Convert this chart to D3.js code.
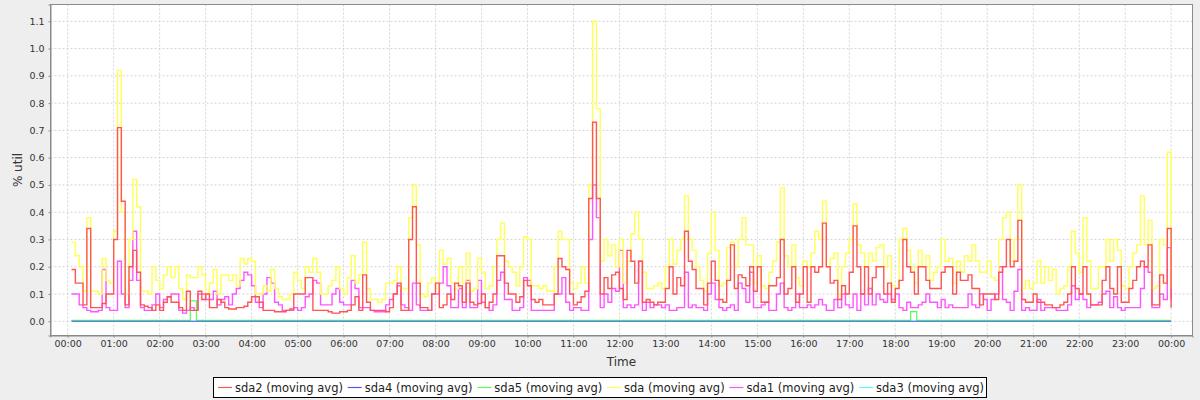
<!DOCTYPE html>
<html><head><meta charset="utf-8">
<script src="https://cdn.jsdelivr.net/npm/d3@7"></script>
<style>
html,body{margin:0;padding:0;background:#eeeeee;}
svg{display:block;font-family:"DejaVu Sans",sans-serif;}
</style></head><body>
<svg id="chart" width="1200" height="400"></svg>
<script>
// ---------- data ----------
const seriesNames = ["sda2 (moving avg)", "sda4 (moving avg)", "sda5 (moving avg)", "sda (moving avg)", "sda1 (moving avg)", "sda3 (moving avg)"];
const xTickLabels = ["00:00","01:00","02:00","03:00","04:00","05:00","06:00","07:00","08:00","09:00","10:00","11:00","12:00","13:00","14:00","15:00","16:00","17:00","18:00","19:00","20:00","21:00","22:00","23:00","00:00"];
const yTickValues = [0.0,0.1,0.2,0.3,0.4,0.5,0.6,0.7,0.8,0.9,1.0,1.1];
const yTickLabels = ["0.0","0.1","0.2","0.3","0.4","0.5","0.6","0.7","0.8","0.9","1.0","1.1"];

// samples every 5 minutes, 00:05 .. 24:00
const startMinute = 5, stepMinutes = 5;

const sda2 = [
0.19,0.14,0.14,0.06,0.34,0.05,0.05,0.05,0.065,0.10,0.10,0.30,
0.71,0.44,0.06,0.20,0.26,0.18,0.06,0.055,0.05,0.04,0.06,0.04,
0.07,0.09,0.07,0.07,0.05,0.04,0.11,0.04,0.04,0.11,0.08,0.10,
0.05,0.05,0.08,0.07,0.05,0.045,0.045,0.05,0.05,0.055,0.07,0.09,
0.09,0.07,0.04,0.04,0.04,0.035,0.035,0.035,0.04,0.045,0.10,0.10,
0.10,0.16,0.16,0.04,0.04,0.04,0.04,0.035,0.03,0.03,0.035,0.035,
0.04,0.06,0.09,0.04,0.17,0.07,0.04,0.04,0.04,0.04,0.035,0.05,
0.10,0.14,0.04,0.04,0.30,0.42,0.14,0.05,0.05,0.04,0.10,0.14,
0.05,0.06,0.10,0.08,0.14,0.13,0.07,0.14,0.07,0.06,0.065,0.10,
0.05,0.07,0.10,0.24,0.24,0.14,0.10,0.10,0.07,0.09,0.15,0.13,
0.08,0.07,0.08,0.06,0.06,0.06,0.10,0.23,0.20,0.19,0.10,0.06,
0.07,0.09,0.11,0.45,0.73,0.45,0.10,0.16,0.12,0.17,0.18,0.12,
0.08,0.26,0.22,0.14,0.22,0.07,0.08,0.07,0.06,0.07,0.07,0.12,
0.20,0.10,0.16,0.13,0.33,0.22,0.19,0.12,0.12,0.06,0.14,0.22,
0.15,0.08,0.07,0.15,0.28,0.12,0.17,0.16,0.13,0.20,0.11,0.20,
0.07,0.07,0.13,0.13,0.16,0.30,0.10,0.12,0.20,0.07,0.10,0.20,
0.07,0.20,0.18,0.20,0.36,0.20,0.14,0.15,0.08,0.13,0.10,0.18,
0.35,0.20,0.10,0.20,0.10,0.16,0.20,0.20,0.10,0.14,0.07,0.12,
0.15,0.30,0.20,0.18,0.10,0.20,0.20,0.15,0.12,0.12,0.12,0.18,
0.20,0.20,0.10,0.18,0.15,0.15,0.17,0.12,0.12,0.06,0.10,0.10,
0.10,0.08,0.18,0.20,0.30,0.20,0.22,0.37,0.08,0.07,0.07,0.10,
0.07,0.07,0.06,0.06,0.05,0.05,0.06,0.07,0.10,0.20,0.12,0.10,
0.20,0.10,0.06,0.06,0.06,0.15,0.20,0.12,0.10,0.20,0.07,0.07,
0.12,0.15,0.20,0.22,0.20,0.28,0.06,0.06,0.17,0.14,0.34,0.05
];

const sda = [
0.29,0.24,0.20,0.11,0.38,0.11,0.11,0.10,0.23,0.15,0.14,0.33,
0.92,0.40,0.10,0.30,0.52,0.42,0.11,0.11,0.10,0.20,0.15,0.12,
0.17,0.20,0.16,0.20,0.12,0.08,0.17,0.16,0.16,0.20,0.17,0.10,
0.14,0.19,0.10,0.17,0.17,0.15,0.17,0.13,0.23,0.21,0.23,0.22,
0.10,0.10,0.13,0.11,0.19,0.12,0.09,0.08,0.08,0.10,0.18,0.15,
0.12,0.20,0.18,0.23,0.18,0.10,0.10,0.13,0.15,0.20,0.12,0.10,
0.16,0.24,0.14,0.17,0.29,0.12,0.08,0.08,0.07,0.08,0.14,0.14,
0.15,0.20,0.12,0.12,0.38,0.50,0.28,0.10,0.09,0.14,0.16,0.12,
0.26,0.21,0.23,0.14,0.12,0.20,0.14,0.25,0.11,0.12,0.23,0.18,
0.12,0.13,0.20,0.30,0.36,0.22,0.20,0.18,0.13,0.20,0.31,0.30,
0.13,0.13,0.12,0.13,0.11,0.11,0.20,0.33,0.30,0.30,0.14,0.12,
0.14,0.20,0.14,0.50,1.10,0.78,0.22,0.30,0.24,0.28,0.20,0.30,
0.14,0.22,0.32,0.40,0.30,0.18,0.12,0.12,0.13,0.14,0.12,0.20,
0.30,0.21,0.26,0.30,0.46,0.30,0.26,0.20,0.15,0.11,0.25,0.40,
0.26,0.13,0.14,0.27,0.29,0.20,0.30,0.38,0.28,0.28,0.14,0.24,
0.13,0.12,0.18,0.22,0.29,0.49,0.24,0.20,0.28,0.16,0.13,0.22,
0.20,0.25,0.33,0.30,0.44,0.20,0.23,0.25,0.10,0.20,0.25,0.30,
0.43,0.28,0.25,0.20,0.25,0.22,0.27,0.28,0.20,0.24,0.13,0.12,
0.30,0.34,0.26,0.20,0.14,0.26,0.20,0.24,0.15,0.18,0.20,0.30,
0.22,0.23,0.14,0.22,0.18,0.24,0.22,0.28,0.22,0.18,0.18,0.22,
0.16,0.15,0.30,0.38,0.40,0.22,0.30,0.50,0.12,0.15,0.12,0.14,
0.22,0.14,0.20,0.15,0.19,0.10,0.12,0.13,0.20,0.33,0.25,0.18,
0.38,0.22,0.12,0.12,0.20,0.20,0.30,0.22,0.30,0.26,0.13,0.12,
0.20,0.25,0.28,0.46,0.28,0.37,0.12,0.13,0.30,0.28,0.62,0.12
];

const sda1 = [
0.10,0.10,0.06,0.05,0.04,0.035,0.035,0.04,0.19,0.05,0.04,0.04,
0.22,0.10,0.05,0.15,0.33,0.15,0.05,0.04,0.04,0.06,0.10,0.05,
0.08,0.09,0.10,0.10,0.04,0.03,0.04,0.05,0.04,0.10,0.10,0.08,
0.08,0.11,0.06,0.08,0.09,0.06,0.10,0.12,0.15,0.18,0.17,0.13,
0.07,0.05,0.10,0.16,0.14,0.07,0.06,0.04,0.04,0.04,0.05,0.04,
0.05,0.09,0.10,0.15,0.14,0.06,0.06,0.06,0.10,0.12,0.07,0.06,
0.06,0.15,0.12,0.05,0.05,0.05,0.04,0.035,0.035,0.035,0.06,0.08,
0.10,0.13,0.06,0.05,0.04,0.14,0.06,0.04,0.04,0.04,0.10,0.10,
0.14,0.20,0.13,0.05,0.05,0.12,0.05,0.15,0.05,0.05,0.15,0.07,
0.05,0.04,0.06,0.15,0.18,0.08,0.08,0.04,0.04,0.05,0.16,0.15,
0.04,0.04,0.04,0.04,0.04,0.04,0.10,0.10,0.16,0.07,0.04,0.05,
0.05,0.04,0.04,0.30,0.50,0.38,0.05,0.10,0.07,0.12,0.11,0.26,
0.05,0.06,0.05,0.06,0.22,0.04,0.07,0.05,0.06,0.06,0.05,0.06,
0.04,0.04,0.05,0.05,0.18,0.05,0.06,0.05,0.05,0.04,0.10,0.14,
0.08,0.05,0.04,0.05,0.06,0.04,0.14,0.12,0.07,0.18,0.05,0.05,
0.06,0.07,0.04,0.04,0.10,0.14,0.05,0.04,0.05,0.10,0.05,0.05,
0.06,0.05,0.06,0.08,0.06,0.04,0.04,0.08,0.05,0.10,0.06,0.05,
0.10,0.04,0.10,0.06,0.12,0.06,0.10,0.08,0.07,0.10,0.08,0.10,
0.05,0.04,0.07,0.05,0.05,0.06,0.07,0.10,0.07,0.07,0.05,0.08,
0.05,0.06,0.05,0.05,0.05,0.05,0.10,0.06,0.05,0.10,0.08,0.04,
0.08,0.10,0.20,0.08,0.07,0.04,0.11,0.19,0.04,0.05,0.04,0.04,
0.08,0.04,0.05,0.05,0.05,0.04,0.04,0.04,0.06,0.13,0.08,0.10,
0.08,0.05,0.06,0.06,0.07,0.10,0.11,0.05,0.09,0.05,0.04,0.05,
0.05,0.05,0.05,0.12,0.20,0.18,0.05,0.05,0.10,0.08,0.27,0.08
];

// sparse series (minute of day, value)
const sda5Minutes = [5, 160, 160, 168, 168, 1100, 1100, 1108, 1108, 1440];
const sda5 = [0.003, 0.003, 0.075, 0.075, 0.003, 0.003, 0.035, 0.035, 0.003, 0.003];
const sda4Minutes = [5, 1440];
const sda4 = [0, 0];
const sda3Minutes = [5, 1440];
const sda3 = [0, 0];

// ---------- build ----------
const regular = vals => vals.map((v, i) => ({m: startMinute + i * stepMinutes, v}));
const sparse = (ms, vals) => vals.map((v, i) => ({m: ms[i], v}));
const colors = ["#ff5555", "#5555ff", "#55ff55", "#ffff55", "#ff55ff", "#55ffff"];
const series = [
  {name: seriesNames[0], color: colors[0], pts: regular(sda2), step: true},
  {name: seriesNames[1], color: colors[1], pts: sparse(sda4Minutes, sda4)},
  {name: seriesNames[2], color: colors[2], pts: sparse(sda5Minutes, sda5)},
  {name: seriesNames[3], color: colors[3], pts: regular(sda), step: true},
  {name: seriesNames[4], color: colors[4], pts: regular(sda1), step: true},
  {name: seriesNames[5], color: colors[5], pts: sparse(sda3Minutes, sda3)}
];

const svg = d3.select("#chart");
const P = {left: 50.5, right: 1192.5, top: 4.5, bottom: 335.5};

const x = d3.scaleLinear().domain([-22.45, 1467.9]).range([P.left, P.right]);
const y = d3.scaleLinear().domain([-0.0522, 1.1617]).range([P.bottom, P.top]);

svg.append("rect").attr("x", P.left).attr("y", P.top)
  .attr("width", P.right - P.left).attr("height", P.bottom - P.top).attr("fill", "#ffffff");

// gridlines
const grid = svg.append("g");
xTickLabels.forEach((t, i) => {
  const gx = x(i * 60);
  grid.append("line").attr("x1", gx).attr("x2", gx).attr("y1", P.top).attr("y2", P.bottom)
    .attr("stroke", "#d4d4d4").attr("stroke-width", 1).attr("stroke-dasharray", "2,2");
});
yTickValues.forEach(v => {
  grid.append("line").attr("x1", P.left).attr("x2", P.right).attr("y1", y(v)).attr("y2", y(v))
    .attr("stroke", "#d4d4d4").attr("stroke-width", 1).attr("stroke-dasharray", "2,2");
});

// series (reverse order: first series on top)
const plot = svg.append("g");
series.slice().reverse().forEach(s => {
  const line = d3.line().x(d => x(d.m)).y(d => y(d.v))
    .curve(s.step ? d3.curveStepAfter : d3.curveLinear);
  plot.append("path").datum(s.pts).attr("d", line)
    .attr("fill", "none").attr("stroke", s.color).attr("stroke-width", s.step ? 1.4 : 1.2);
});

// outline
svg.append("rect").attr("x", P.left).attr("y", P.top)
  .attr("width", P.right - P.left).attr("height", P.bottom - P.top)
  .attr("fill", "none").attr("stroke", "#8a8a8a").attr("stroke-width", 1);

// x axis
const xAxis = d3.axisBottom(x)
  .tickValues(xTickLabels.map((t, i) => i * 60))
  .tickFormat((d, i) => xTickLabels[i])
  .tickSize(2).tickPadding(3);
const gx = svg.append("g").attr("transform", `translate(0,${P.bottom})`).call(xAxis);
gx.select(".domain").attr("stroke", "#8a8a8a");
gx.selectAll(".tick line").attr("stroke", "#8a8a8a");
gx.selectAll(".tick text").attr("fill", "#333").attr("font-size", "9.5px")
  .attr("font-family", "DejaVu Sans");

// y axis
const yAxis = d3.axisLeft(y).tickValues(yTickValues)
  .tickFormat((d, i) => yTickLabels[i]).tickSize(2).tickPadding(4);
const gy = svg.append("g").attr("transform", `translate(${P.left},0)`).call(yAxis);
gy.select(".domain").attr("stroke", "#8a8a8a");
gy.selectAll(".tick line").attr("stroke", "#8a8a8a");
gy.selectAll(".tick text").attr("fill", "#333").attr("font-size", "9.5px")
  .attr("font-family", "DejaVu Sans");

// axis titles
svg.append("text").attr("x", (P.left + P.right) / 2).attr("y", 365.5)
  .attr("text-anchor", "middle").attr("font-size", "12px").attr("fill", "#333").text("Time");
svg.append("text").attr("transform", `translate(22,${(P.top + P.bottom) / 2}) rotate(-90)`)
  .attr("text-anchor", "middle").attr("font-size", "12px").attr("fill", "#333").text("% util");

// legend
const LB = {left: 213.5, right: 986.5, top: 377.5, bottom: 397.5};
const lg = svg.append("g");
lg.append("rect").attr("x", LB.left).attr("y", LB.top).attr("width", LB.right - LB.left)
  .attr("height", LB.bottom - LB.top).attr("fill", "#ffffff").attr("stroke", "#000").attr("stroke-width", 1);
const cy = (LB.top + LB.bottom) / 2;
const items = series.map(s => {
  const g = lg.append("g");
  g.append("line").attr("x1", 0).attr("x2", 14).attr("y1", cy).attr("y2", cy)
    .attr("stroke", s.color).attr("stroke-width", 1.2);
  const t = g.append("text").attr("x", 17).attr("y", cy + 4.2).attr("font-size", "11.5px")
    .attr("fill", "#222").text(s.name);
  return {g, w: 17 + t.node().getComputedTextLength()};
});
const total = d3.sum(items, d => d.w);
const gap = ((LB.right - LB.left) - 7 - total) / (items.length - 1);
let cx = LB.left + 4.5;
items.forEach(it => { it.g.attr("transform", `translate(${cx},0)`); cx += it.w + gap; });
</script>
</body></html>
